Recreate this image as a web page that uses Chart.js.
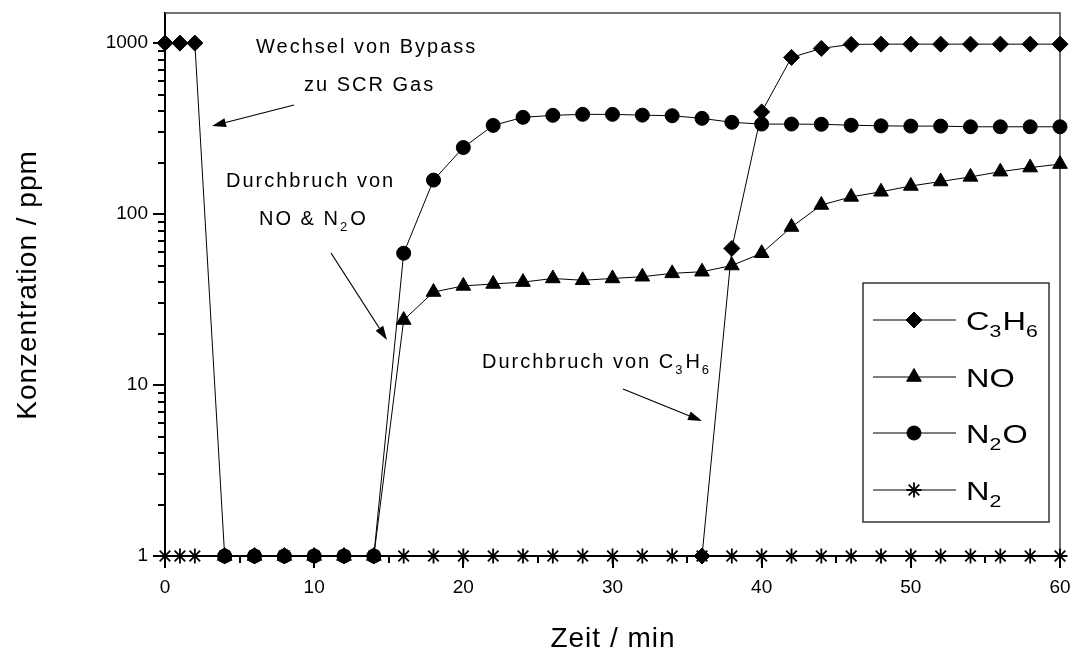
<!DOCTYPE html>
<html>
<head>
<meta charset="utf-8">
<script src="https://cdn.jsdelivr.net/npm/chart.js@4.4.1/dist/chart.umd.min.js"></script>
<style>
  html, body { margin: 0; padding: 0; background: #fff; }
  #wrap { width: 1078px; height: 658px; }
</style>
</head>
<body>
<div id="wrap"><canvas id="chart" width="1078" height="658"></canvas></div>
<script>
const minutes = [0, 1, 2, 4, 6, 8, 10, 12, 14, 16, 18, 20, 22, 24, 26, 28, 30, 32, 34, 36, 38, 40, 42, 44, 46, 48, 50, 52, 54, 56, 58, 60];
const c3h6 = [1000, 1000, 1000, 1, 1, 1, 1, 1, 1, null, null, null, null, null, null, null, null, null, null, 1, 63, 396, 825, 931, 983, 986, 986, 986, 986, 986, 986, 986];
const no = [null, null, null, 1, 1, 1, 1, 1, 1, 24, 35, 38, 39, 40, 42, 41, 42, 43, 45, 46, 50, 59, 84, 113, 126, 135, 146, 155, 165, 177, 187, 196];
const n2o = [null, null, null, 1, 1, 1, 1, 1, 1, 59, 158, 245, 330, 368, 378, 383, 383, 379, 376, 363, 344, 336, 336, 335, 331, 328, 327, 327, 324, 324, 324, 324];
const n2 = [1, 1, 1, 1, 1, 1, 1, 1, 1, 1, 1, 1, 1, 1, 1, 1, 1, 1, 1, 1, 1, 1, 1, 1, 1, 1, 1, 1, 1, 1, 1, 1];
const yTicks = [1, 10, 100, 1000];
const xTicks = [0, 10, 20, 30, 40, 50, 60];

const FONT = '"Liberation Sans", Arial, sans-serif';
Chart.defaults.font.family = FONT;

function toPoints(vals) {
  return minutes.map((t, i) => ({ x: t, y: vals[i] })).filter(p => p.y !== null);
}

function series(data, style, radius) {
  return {
    data: toPoints(data),
    borderColor: '#000',
    borderWidth: 1,
    backgroundColor: '#000',
    pointStyle: style,
    pointRadius: radius,
    pointBackgroundColor: '#000',
    pointBorderColor: '#000',
    pointBorderWidth: style === 'star' ? 1.8 : 1,
    tension: 0,
    fill: false,
    clip: false
  };
}

const legendItems = [
  { style: 'rectRot', radius: 8, parts: [['C', 0], ['3', 1], ['H', 0], ['6', 1]] },
  { style: 'triangle', radius: 8.5, parts: [['NO', 0]] },
  { style: 'circle', radius: 7, parts: [['N', 0], ['2', 1], ['O', 0]] },
  { style: 'star', radius: 7.5, parts: [['N', 0], ['2', 1]] }
];

// text with subscripts, optional horizontal stretch
function drawParts(ctx, parts, x, y, size, spacing, stretch) {
  stretch = stretch || 1;
  ctx.save();
  ctx.translate(x, y);
  ctx.scale(stretch, 1);
  let cx = 0;
  parts.forEach(([txt, sub]) => {
    const fs = sub ? Math.round(size * 0.65) : size;
    ctx.font = fs + 'px ' + FONT;
    ctx.letterSpacing = spacing + 'px';
    ctx.fillText(txt, cx, sub ? size * 0.3 : 0);
    cx += ctx.measureText(txt).width + (sub ? 1 : 0);
  });
  ctx.restore();
}

function arrow(ctx, x1, y1, x2, y2) {
  const a = Math.atan2(y2 - y1, x2 - x1);
  const len = 14, hw = 4.5;
  const bx = x2 - Math.cos(a) * len, by = y2 - Math.sin(a) * len;
  ctx.beginPath();
  ctx.moveTo(x1, y1);
  ctx.lineTo(bx, by);
  ctx.lineWidth = 1.2;
  ctx.stroke();
  ctx.beginPath();
  ctx.moveTo(x2, y2);
  ctx.lineTo(bx - Math.sin(a) * hw, by + Math.cos(a) * hw);
  ctx.lineTo(bx + Math.sin(a) * hw, by - Math.cos(a) * hw);
  ctx.closePath();
  ctx.fill();
}

const decor = {
  id: 'decor',
  beforeDatasetsDraw(chart) {
    const { ctx, chartArea: a } = chart;
    ctx.save();
    ctx.strokeStyle = '#444';
    ctx.lineWidth = 1.5;
    ctx.beginPath();
    ctx.moveTo(a.left, a.top);
    ctx.lineTo(a.right, a.top);
    ctx.lineTo(a.right, a.bottom);
    ctx.stroke();
    ctx.restore();
  },
  afterDraw(chart) {
    const { ctx, chartArea: a } = chart;
    const xs = chart.scales.x, ys = chart.scales.y;
    ctx.save();
    ctx.strokeStyle = '#000';
    ctx.fillStyle = '#000';

    // tick marks
    ctx.lineWidth = 2;
    ctx.beginPath();
    [1, 10, 100, 1000].forEach(d => {
      for (let m = 1; m <= 9; m++) {
        const v = d * m;
        if (v > 1500) break;
        const py = Math.round(ys.getPixelForValue(v));
        ctx.moveTo(a.left, py);
        ctx.lineTo(a.left - (m === 1 ? 12 : 7), py);
      }
    });
    for (let t = 0; t <= 60; t += 5) {
      const px = Math.round(xs.getPixelForValue(t));
      ctx.moveTo(px, a.bottom);
      ctx.lineTo(px, a.bottom + (t % 10 === 0 ? 12 : 7));
    }
    ctx.stroke();

    // annotations
    ctx.textBaseline = 'alphabetic';
    ctx.textAlign = 'left';
    drawParts(ctx, [['Wechsel von Bypass', 0]], 256, 53, 20, 2);
    drawParts(ctx, [['zu SCR Gas', 0]], 304, 91, 20, 2);
    drawParts(ctx, [['Durchbruch von', 0]], 226, 187, 20, 2);
    drawParts(ctx, [['NO & N', 0], ['2', 1], ['O', 0]], 259, 225, 20, 2);
    drawParts(ctx, [['Durchbruch von C', 0], ['3', 1], ['H', 0], ['6', 1]], 482, 368, 20, 2);
    arrow(ctx, 294, 105, 212, 126);
    arrow(ctx, 331, 253, 387, 340);
    arrow(ctx, 623, 389, 702, 421);

    // legend
    ctx.strokeStyle = '#333';
    ctx.lineWidth = 1.5;
    ctx.strokeRect(863, 283, 186, 239);
    const rows = [320, 377, 433, 490];
    legendItems.forEach((it, i) => {
      const y = rows[i];
      ctx.strokeStyle = '#000';
      ctx.lineWidth = 1;
      ctx.beginPath();
      ctx.moveTo(873, y);
      ctx.lineTo(956, y);
      ctx.stroke();
      ctx.lineWidth = it.style === 'star' ? 1.8 : 1;
      Chart.helpers.drawPoint(ctx, { pointStyle: it.style, radius: it.radius, rotation: 0, borderWidth: ctx.lineWidth }, 914, y);
      drawParts(ctx, it.parts, 966, y + 9.5, 26, 0, 1.25);
    });

    // axis titles
    ctx.font = '28px ' + FONT;
    ctx.letterSpacing = '1px';
    ctx.textAlign = 'center';
    ctx.textBaseline = 'middle';
    ctx.fillText('Zeit / min', 613, 639);
    ctx.translate(28, 285);
    ctx.rotate(-Math.PI / 2);
    ctx.fillText('Konzentration / ppm', 0, 0);
    ctx.restore();
  }
};

function fixBox(width, height) {
  return s => {
    if (width) s.width = width;
    if (height) s.height = height;
    s.paddingLeft = s.paddingRight = s.paddingTop = s.paddingBottom = 0;
  };
}

new Chart(document.getElementById('chart'), {
  type: 'line',
  data: {
    datasets: [
      series(n2, 'star', 7.5),
      series(c3h6, 'rectRot', 8),
      series(no, 'triangle', 8.5),
      series(n2o, 'circle', 7)
    ]
  },
  options: {
    responsive: false,
    animation: false,
    layout: { padding: { top: 13, right: 18, left: 0, bottom: 0 } },
    plugins: { legend: { display: false }, tooltip: { enabled: false } },
    scales: {
      x: {
        type: 'linear',
        min: 0,
        max: 60,
        grid: { display: false, drawTicks: false },
        border: { display: true, color: '#000', width: 2 },
        ticks: { color: '#000', padding: 20, font: { size: 19 }, callback: v => String(v) },
        afterBuildTicks: s => { s.ticks = xTicks.map(v => ({ value: v })); },
        afterFit: fixBox(0, 102)
      },
      y: {
        type: 'logarithmic',
        min: 1,
        max: 1500,
        grid: { display: false, drawTicks: false },
        border: { display: true, color: '#000', width: 2 },
        ticks: { color: '#000', padding: 17, font: { size: 19 }, callback: v => String(v) },
        afterBuildTicks: s => { s.ticks = yTicks.map(v => ({ value: v })); },
        afterFit: fixBox(165, 0)
      }
    }
  },
  plugins: [decor]
});
</script>
</body>
</html>
